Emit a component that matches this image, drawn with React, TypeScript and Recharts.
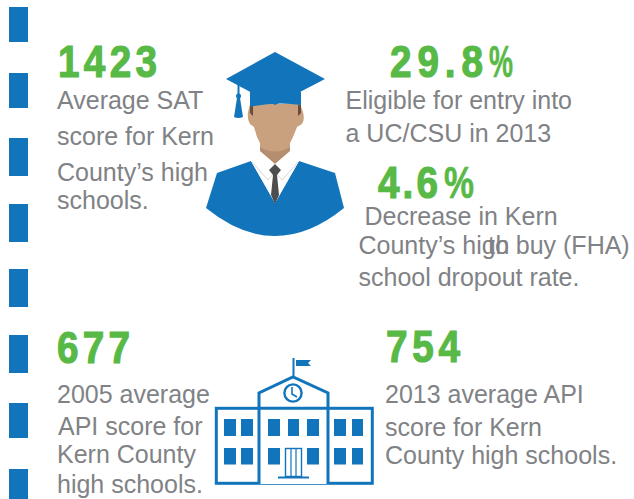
import React from "react";
import { ScatterChart, Scatter, XAxis, YAxis, ReferenceArea } from "recharts";

const W = 634;
const H = 499;
const BLUE = "#1275BC";
const GREEN = "#58B947";
const GRAY = "#808285";

// Content
const statValues = ["1423", "29.8", "4.6", "677", "754"];
const percentSigns = ["", "%", "%", "", ""];
const captionLines = [
  "Average SAT",
  "score for Kern",
  "County\u2019s high",
  "schools.",
  "Eligible for entry into",
  "a UC/CSU in 2013",
  "Decrease in Kern",
  "County\u2019s high",
  "to buy (FHA)",
  "school dropout rate.",
  "2005 average",
  "API score for",
  "Kern County",
  "high schools.",
  "2013 average API",
  "score for Kern",
  "County high schools.",
];

// Layout (page pixels, fed through the hidden axes)
const statX = [58, 390, 378, 57, 386];
const statY = [77, 77, 198, 363, 362];
const statWidth = [99, 93, 60, 73, 74];
const percentX = [0, 489, 444, 0, 0];
const percentScale = [0, 0.6, 0.75, 0, 0];
const captionX = [57, 57, 57, 57, 345.5, 345.5, 364.5, 358.5, 488, 358.5, 57, 58, 57, 57, 385, 385, 385];
const captionY = [109, 145, 181, 209, 109, 142, 225, 254, 254, 286, 403, 435, 463, 493, 403, 436, 464];
const dashTop = [7, 73, 138, 204, 269, 335, 403, 469];
const dashBottom = [42, 108, 176, 242, 307, 373, 438, 499];
const dashLeft = 9;
const dashRight = 28;
const STAT_SCALE = 0.86;

const stats = statValues.map((label, i) => ({ label, x: statX[i], y: statY[i], w: statWidth[i] }));
const percents = percentSigns
  .map((label, i) => ({ label, x: percentX[i], y: statY[i], s: percentScale[i] }))
  .filter((d) => d.label);
const captions = captionLines.map((label, i) => ({ label, x: captionX[i], y: captionY[i] }));
const graduateAnchor = [{ x: 275, y: 52 }];
const schoolAnchor = [{ x: 293, y: 377 }];

const statFont = {
  fill: GREEN,
  stroke: GREEN,
  fontFamily: "'Liberation Sans', sans-serif",
  fontWeight: 700,
  fontSize: 45,
};

const StatText = (p: any) => (
  <g transform={`translate(${p.cx} ${p.cy}) scale(${STAT_SCALE} 1)`}>
    <text x={0} y={0} {...statFont} strokeWidth={1.2} textLength={p.payload.w / STAT_SCALE} lengthAdjust="spacing">
      {p.payload.label}
    </text>
  </g>
);

const PercentText = (p: any) => (
  <g transform={`translate(${p.cx} ${p.cy}) scale(${p.payload.s} 1)`}>
    <text x={0} y={0} {...statFont} strokeWidth={0.6}>
      {p.payload.label}
    </text>
  </g>
);

const CaptionText = (p: any) => (
  <text x={p.cx} y={p.cy} fill={GRAY} fontFamily="'Liberation Sans', Arial, sans-serif" fontSize={25}>
    {p.payload.label}
  </text>
);

const Graduate = (p: any) => (
  <g transform={`translate(${p.cx - 275} ${p.cy - 52})`}>
    <path d="M217 173 L251 161 L275 203 L299 161 L335 173 L344 208 Q275 264 206 208 Z" fill={BLUE} />
    <path d="M248 112 Q247 120 250 124 L254 127 L257 137 L260 143 V152 L275 164 L290 152 V143 L293 137 L297 127 L302 124 Q305 120 303 112 L300 104 H250 Z" fill="#C9A17F" />
    <path d="M260 147 Q275 156 290 147 V152 L275 164 L260 152 Z" fill="#B58E70" />
    <path d="M250 105 H253 V116 L250 113 Z M301 105 H298 V116 L301 113 Z" fill="#6E4A38" />
    <path d="M251 161 L260 151 L275 164 L290 151 L299 161 L275 203 Z" fill="#fff" />
    <path d="M252 162 L268 180 L275 172 L282 180 L298 162" fill="none" stroke="#D9D6D6" strokeWidth={1} />
    <path d="M269 170 L275 164 L281 170 L277 175 L279 195 L275 204 L271 195 L273 175 Z" fill="#4D4D4D" />
    <path d="M250 92 V107 Q275 101 301 105 V92 Z" fill={BLUE} />
    <path d="M275 52 L325 79 L275 105 L226 79 Z" fill={BLUE} />
    <path d="M237.5 84 H239.5 V95 H237.5 Z" fill={BLUE} />
    <circle cx={238.5} cy={96} r={2.5} fill={BLUE} />
    <path d="M237 98 H240 L243 117 Q238.5 119 234 117 Z" fill={BLUE} />
  </g>
);

const School = (p: any) => {
  const rows = [419, 448];
  const cols = [224, 241, 268, 288, 307, 334, 352];
  const widths = [12, 12, 12, 11, 12, 12, 11];
  return (
    <g transform={`translate(${p.cx - 293} ${p.cy - 377})`}>
      <rect x={216.3} y={408.3} width={156} height={75} fill="none" stroke={BLUE} strokeWidth={3} />
      <path d="M259 484 V393 L293 377 L328 393 V484" fill="#fff" stroke={BLUE} strokeWidth={3} />
      <path d="M259 408.3 H328" stroke={BLUE} strokeWidth={3} />
      <path d="M293.5 358 V377" stroke={BLUE} strokeWidth={2} />
      <path d="M296 360 H311 L308 363 L311 366 H296 Z" fill={BLUE} />
      <circle cx={293} cy={393} r={8.6} fill="#fff" stroke={BLUE} strokeWidth={2.4} />
      <path d="M292 387 V394 L297 397" fill="none" stroke={BLUE} strokeWidth={1.6} />
      {rows.map((r, ri) =>
        cols.map((c, ci) =>
          ri === 1 && ci === 3 ? null : <rect key={`${ri}-${ci}`} x={c} y={r} width={widths[ci]} height={r === 419 ? 17 : 16.5} fill={BLUE} />
        )
      )}
      <rect x={285.5} y={448.5} width={16} height={28} fill="none" stroke={BLUE} strokeWidth={1.4} />
      <path d="M291 449 V476 M296 449 V476" stroke={BLUE} strokeWidth={1.2} />
      <path d="M278 477.5 H309" stroke={BLUE} strokeWidth={2} />
    </g>
  );
};

export default function App() {
  return (
    <div style={{ position: "absolute", left: 0, top: 0, width: W, height: H, background: "#fff" }}>
      <ScatterChart width={W} height={H} margin={{ top: 0, right: 0, bottom: 0, left: 0 }}>
        <XAxis type="number" dataKey="x" domain={[0, W]} hide allowDataOverflow />
        <YAxis type="number" dataKey="y" domain={[0, H]} reversed hide allowDataOverflow />
        {dashTop.map((t, i) => (
          <ReferenceArea key={t} x1={dashLeft} x2={dashRight} y1={t} y2={dashBottom[i]} fill={BLUE} fillOpacity={1} stroke="none" ifOverflow="visible" />
        ))}
        <Scatter data={graduateAnchor} shape={Graduate} isAnimationActive={false} />
        <Scatter data={schoolAnchor} shape={School} isAnimationActive={false} />
        <Scatter data={stats} shape={StatText} isAnimationActive={false} />
        <Scatter data={percents} shape={PercentText} isAnimationActive={false} />
        <Scatter data={captions} shape={CaptionText} isAnimationActive={false} />
      </ScatterChart>
    </div>
  );
}
